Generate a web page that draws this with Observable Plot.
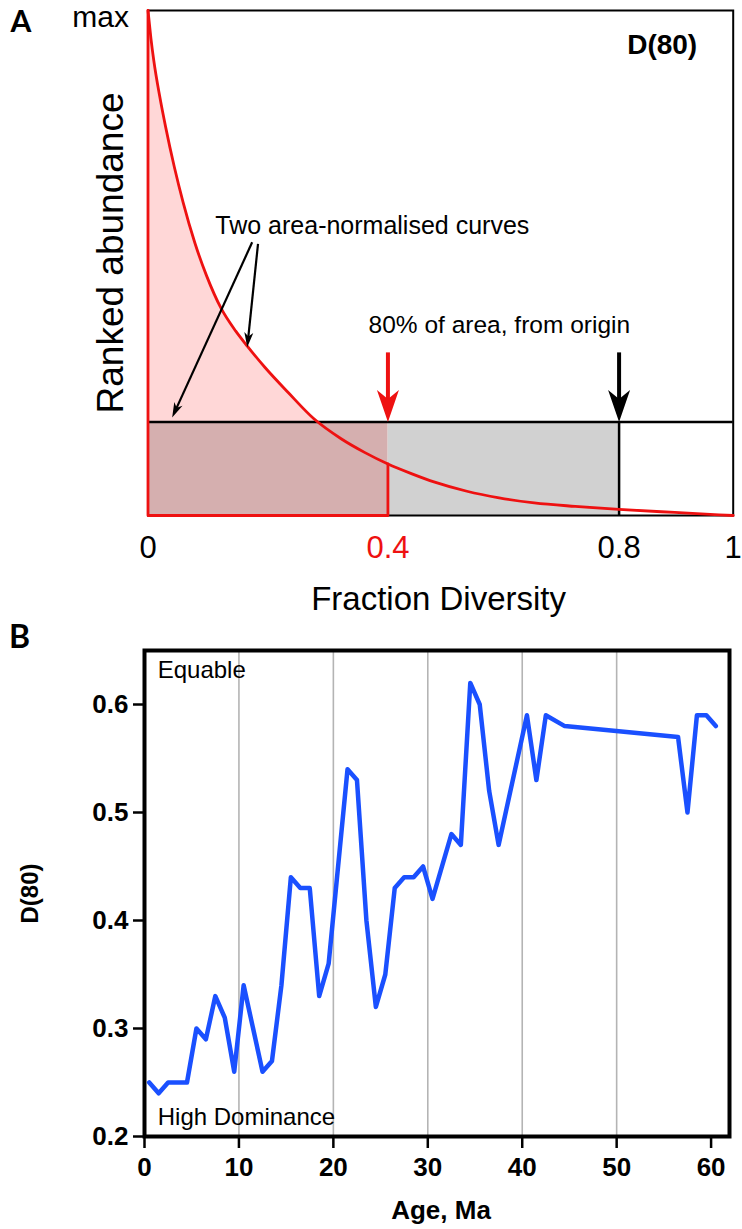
<!DOCTYPE html>
<html><head><meta charset="utf-8">
<script src="https://cdn.jsdelivr.net/npm/d3@7"></script>
<script src="https://cdn.jsdelivr.net/npm/@observablehq/plot@0.6"></script>
<style>
body{margin:0;background:#fff;}
#chart svg{display:block;overflow:visible;}
</style></head><body><div id="chart"></div>
<script>
// ---------- Panel A data (conceptual ranked-abundance curves) ----------
const curveX = [0, 0.005, 0.01, 0.02, 0.03, 0.045, 0.06, 0.08, 0.1, 0.125, 0.15, 0.17, 0.2, 0.24, 0.283, 0.33, 0.37, 0.41, 0.45, 0.49, 0.545, 0.6, 0.66, 0.73, 0.805, 0.9, 1];
const curveY = [1.0, 0.945, 0.90, 0.83, 0.77, 0.69, 0.62, 0.54, 0.475, 0.41, 0.365, 0.335, 0.293, 0.243, 0.192, 0.152, 0.125, 0.102, 0.083, 0.066, 0.048, 0.035, 0.025, 0.018, 0.012, 0.006, 0];
const dCurve = 0.41;      // D(80) of the skewed curve
const dUniform = 0.805;   // D(80) of the even curve
const uniformLevel = 0.185;
const xTicksA = [0, dCurve, dUniform, 1];
const xTickLabelsA = ["0", "0.4", "0.8", "1"];
const noteArrows = [
  {x1: 0.178, y1: 0.541, x2: 0.0413, y2: 0.194},
  {x1: 0.188, y1: 0.538, x2: 0.1696, y2: 0.333}
];
const markerTop = 0.323;

// ---------- Panel B data ----------
const ages = [0.5, 1.5, 2.5, 4.5, 5.5, 6.5, 7.5, 8.5, 9.5, 10.5, 12.5, 13.5, 14.5, 15.5, 16.5, 17.5, 18.5, 19.5, 21.5, 22.5, 23.5, 24.5, 25.5, 26.5, 27.5, 28.5, 29.5, 30.5, 32.5, 33.5, 34.5, 35.5, 36.5, 37.5, 40.5, 41.5, 42.5, 44.5, 56.5, 57.5, 58.5, 59.5, 60.5];
const d80 = [0.25, 0.24, 0.25, 0.25, 0.30, 0.29, 0.33, 0.31, 0.26, 0.34, 0.26, 0.27, 0.34, 0.44, 0.43, 0.43, 0.33, 0.36, 0.54, 0.53, 0.40, 0.32, 0.35, 0.43, 0.44, 0.44, 0.45, 0.42, 0.48, 0.47, 0.62, 0.60, 0.52, 0.47, 0.59, 0.53, 0.59, 0.58, 0.57, 0.50, 0.59, 0.59, 0.58];
const yTicksB = [0.2, 0.3, 0.4, 0.5, 0.6];
const xTicksB = [0, 10, 20, 30, 40, 50, 60];
const gridB = [10, 20, 30, 40, 50];

// ---------- styling ----------
const RED = "#ee1111", PINK = "#ffd7d7", GRAY = "#d1d1d1", BROWN = "#d5afaf", BLUE = "#1a50ff";
const FONT = "'Liberation Sans', Arial, Helvetica, sans-serif";
const LETTER_FONT = "Lato, 'Open Sans', sans-serif";

// layout of panel A
const WA = 742, HA = 620, mlA = 147.5, mrA = 9.3, mtA = 10, mbA = 105;
const pxX = WA - mlA - mrA, pxY = HA - mtA - mbA;

function headSymbol(len, wid, angleDeg) {
  const a = angleDeg * Math.PI / 180, c = Math.cos(a), s = Math.sin(a);
  const pts = [[0, 0], [-len, -wid / 2], [-len * 0.72, 0], [-len, wid / 2]]
    .map(([px, py]) => [px * c - py * s, px * s + py * c]);
  return {draw(ctx) {
    ctx.moveTo(pts[0][0], pts[0][1]);
    for (let i = 1; i < pts.length; i++) ctx.lineTo(pts[i][0], pts[i][1]);
    ctx.closePath();
  }};
}

const curve = curveX.map((x, i) => ({x, y: curveY[i]}));
const curveLeft = curve.filter(d => d.x <= dCurve);
const yAtD = curveY[curveX.indexOf(dCurve)];
const outline = [{x: dCurve, y: yAtD}, {x: dCurve, y: 0}, {x: 0, y: 0}, {x: 0, y: curveY[0]}];

const arrowMarks = [];
for (const a of noteArrows) {
  const dxp = (a.x2 - a.x1) * pxX, dyp = -(a.y2 - a.y1) * pxY;
  const ang = Math.atan2(dyp, dxp);
  const len = 15, back = len * 0.6;
  const sx2 = a.x2 - Math.cos(ang) * back / pxX, sy2 = a.y2 + Math.sin(ang) * back / pxY;
  arrowMarks.push(Plot.link([a], {x1: "x1", y1: "y1", x2: () => sx2, y2: () => sy2, stroke: "black", strokeWidth: 2.2}));
  arrowMarks.push(Plot.dot([a], {x: "x2", y: "y2", symbol: headSymbol(len, 9, ang * 180 / Math.PI), fill: "black", stroke: "none"}));
}
const thick = [{x: dCurve, c: RED}, {x: dUniform, c: "black"}];
for (const t of thick) {
  arrowMarks.push(Plot.link([t], {x1: "x", x2: "x", y1: () => markerTop, y2: () => uniformLevel + 20 / pxY, stroke: t.c, strokeWidth: 4}));
  arrowMarks.push(Plot.dot([t], {x: "x", y: () => uniformLevel, symbol: headSymbol(32, 22, 90), fill: t.c, stroke: "none"}));
}

const mid = {textAnchor: "middle", lineAnchor: "middle"};

const plotA = Plot.plot({
  width: WA, height: HA,
  marginLeft: mlA, marginRight: mrA, marginTop: mtA, marginBottom: mbA,
  x: {domain: [0, 1], axis: null},
  y: {domain: [0, 1], axis: null},
  style: {fontFamily: FONT, background: "white"},
  marks: [
    Plot.areaY(curveLeft, {x: "x", y: "y", fill: PINK, curve: "monotone-x"}),
    Plot.rect([{}], {x1: () => dCurve, x2: () => dUniform, y1: () => 0, y2: () => uniformLevel, fill: GRAY}),
    Plot.rect([{}], {x1: () => 0, x2: () => dCurve, y1: () => 0, y2: () => uniformLevel, fill: BROWN}),
    Plot.frame({stroke: "black", strokeWidth: 2}),
    Plot.ruleY([uniformLevel], {x1: 0, x2: 1, stroke: "black", strokeWidth: 2.5}),
    Plot.ruleX([dUniform], {y1: 0, y2: uniformLevel, stroke: "black", strokeWidth: 2.5}),
    Plot.line(curve, {x: "x", y: "y", stroke: RED, strokeWidth: 2.8, curve: "monotone-x"}),
    Plot.line(outline, {x: "x", y: "y", stroke: RED, strokeWidth: 2.8}),
    ...arrowMarks,
    Plot.text(xTicksA, {x: d => d, frameAnchor: "bottom", dy: 33, text: (d, i) => xTickLabelsA[i],
      fill: d => d === dCurve ? RED : "black", fontSize: 31, ...mid}),
    Plot.text(["Fraction Diversity"], {frameAnchor: "bottom", dx: -2, dy: 84, text: d => d, fontSize: 33, ...mid}),
    Plot.text(["Ranked abundance"], {frameAnchor: "left", dx: -37, dy: -10, rotate: -90, text: d => d, fontSize: 37, ...mid}),
    Plot.text(["max"], {frameAnchor: "top-left", dx: -19, dy: 7, text: d => d, fontSize: 30, textAnchor: "end", lineAnchor: "middle"}),
    Plot.text(["A"], {frameAnchor: "top-left", dx: -127, dy: 12, text: d => d, fontSize: 30, fontWeight: "bold", fontFamily: LETTER_FONT, ...mid}),
    Plot.text(["D(80)"], {frameAnchor: "top-right", dx: -36, dy: 35, text: d => d, fontSize: 28, fontWeight: "bold", textAnchor: "end", lineAnchor: "middle"}),
    Plot.text([{x: 0.115, y: 0.574, t: "Two area-normalised curves"}], {x: "x", y: "y", text: "t", textAnchor: "start", fontSize: 25}),
    Plot.text([{x: 0.377, y: 0.376, t: "80% of area, from origin"}], {x: "x", y: "y", text: "t", textAnchor: "start", fontSize: 24.5})
  ]
});

const series = ages.map((a, i) => ({age: a, d: d80[i]}));
const plotB = Plot.plot({
  width: 742, height: 609,
  marginLeft: 144, marginRight: 13, marginTop: 30, marginBottom: 93,
  x: {domain: [0, 61.95]},
  y: {domain: [0.2, 0.65]},
  style: {fontFamily: FONT, background: "white"},
  marks: [
    Plot.ruleX(gridB, {stroke: "#b4b4b4", strokeWidth: 1.6}),
    Plot.line(series, {x: "age", y: "d", stroke: BLUE, strokeWidth: 4.5}),
    Plot.frame({stroke: "black", strokeWidth: 4}),
    Plot.axisY({ticks: yTicksB, tickSize: 11, tickPadding: 5, tickFormat: d3.format(".1f"), fontSize: 26, fontWeight: "bold", strokeWidth: 2.5, label: null}),
    Plot.axisX({ticks: xTicksB, tickSize: 12, tickPadding: 9, tickFormat: d3.format("d"), fontSize: 26, fontWeight: "bold", strokeWidth: 2.5, label: null}),
    Plot.text([{x: 1.4, y: 0.632, t: "Equable"}], {x: "x", y: "y", text: "t", textAnchor: "start", fontSize: 24}),
    Plot.text([{x: 1.4, y: 0.2176, t: "High Dominance"}], {x: "x", y: "y", text: "t", textAnchor: "start", fontSize: 24}),
    Plot.text(["Age, Ma"], {frameAnchor: "bottom", dx: 4, dy: 74, text: d => d, fontSize: 26, fontWeight: "bold", ...mid}),
    Plot.text(["D(80)"], {frameAnchor: "left", dx: -114, rotate: -90, text: d => d, fontSize: 24, fontWeight: "bold", ...mid}),
    Plot.text(["B"], {frameAnchor: "top-left", dx: -125, dy: -13, text: d => d, fontSize: 32, fontWeight: "bold", fontFamily: LETTER_FONT, ...mid})
  ]
});

document.getElementById("chart").append(plotA, plotB);
</script></body></html>
